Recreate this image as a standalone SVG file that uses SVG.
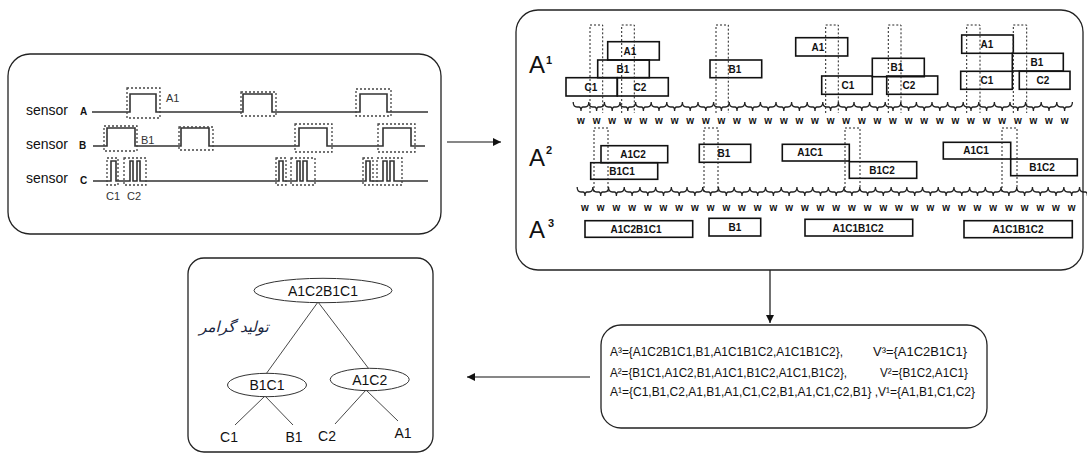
<svg xmlns="http://www.w3.org/2000/svg" width="1087" height="454" viewBox="0 0 1087 454">
<defs>
<style>
.panel{fill:#fff;stroke:#222;stroke-width:1.3}
.sig{fill:none;stroke:#333;stroke-width:1.6}
.dash{fill:none;stroke:#444;stroke-width:1.3;stroke-dasharray:2 2}
.dot{fill:none;stroke:#222;stroke-width:1;stroke-dasharray:2 2}
.box{fill:none;stroke:#111;stroke-width:1.6}
.br{fill:none;stroke:#222;stroke-width:1.3}
.conn{fill:none;stroke:#111;stroke-width:1.2}
.tl{fill:none;stroke:#333;stroke-width:0.9}
.ell{fill:#fff;stroke:#333;stroke-width:1}
text{font-family:"Liberation Sans",Arial,sans-serif;fill:#111}
.sen{font-size:14px}
.senl{font-size:10px;font-weight:bold}
.lab{font-size:11px;fill:#333}
.bt{font-size:10px;font-weight:bold;text-anchor:middle}
.w{font-size:10px;font-weight:bold;text-anchor:middle}
.big{font-size:24px}
.sup{font-size:11px;font-weight:bold}
.set{font-size:13px}
.tr{font-size:14px;text-anchor:middle}
</style>
<marker id="ah" viewBox="0 0 10 10" refX="10" refY="5" markerWidth="8" markerHeight="8" markerUnits="userSpaceOnUse" orient="auto">
<path d="M0,0 L10,5 L0,10 Z" fill="#111"/>
</marker>
</defs>

<g id="connectors">
<line class="conn" x1="447" y1="142" x2="501" y2="142" marker-end="url(#ah)"/>
<line class="conn" x1="770" y1="270" x2="770" y2="323" marker-end="url(#ah)"/>
<line class="conn" x1="590" y1="377" x2="467" y2="377" marker-end="url(#ah)"/>
</g>

<g id="sensors">
<rect class="panel" x="8" y="54" width="433" height="180" rx="22"/>
<text class="sen" x="26" y="115">sensor</text><text class="senl" x="80" y="115">A</text>
<text class="sen" x="26" y="149">sensor</text><text class="senl" x="79" y="149">B</text>
<text class="sen" x="26" y="183">sensor</text><text class="senl" x="80" y="184">C</text>
<path class="sig" d="M92,112 H130 V94 H156 V112 H243 V94 H272 V112 H360 V94 H387 V112 H428"/>
<path class="sig" d="M93,146 H107 V128 H135 V146 H181 V128 H209 V146 H299 V128 H327 V146 H383 V128 H411 V146 H425"/>
<path class="sig" d="M93,181 H111 V161 H116 V181 H130 V161 H133 V181 H137 V161 H140 V181 H279 V161 H283 V181 H297 V161 H300 V181 H303 V161 H307 V181 H366 V161 H370 V181 H383 V161 H387 V181 H390 V161 H394 V181 H428"/>
<rect class="dash" x="127" y="88" width="33" height="30"/>
<rect class="dash" x="241" y="92" width="35" height="24"/>
<rect class="dash" x="356" y="89" width="35" height="27"/>
<rect class="dash" x="104" y="126" width="33" height="25"/>
<rect class="dash" x="179" y="127" width="34" height="23"/>
<rect class="dash" x="295" y="124" width="37" height="28"/>
<rect class="dash" x="378" y="124" width="37" height="28"/>
<rect class="dash" x="107" y="158" width="11" height="27"/>
<rect class="dash" x="124" y="158" width="22" height="27"/>
<rect class="dash" x="276" y="158" width="10" height="27"/>
<rect class="dash" x="291" y="158" width="24" height="27"/>
<rect class="dash" x="363" y="158" width="10" height="27"/>
<rect class="dash" x="377" y="158" width="25" height="27"/>
<text class="lab" x="166" y="102">A1</text>
<text class="lab" x="141" y="144">B1</text>
<text class="lab" x="106" y="200">C1</text>
<text class="lab" x="127" y="200">C2</text>
</g>

<g id="hierarchy">
<rect class="panel" x="516" y="10" width="567" height="260" rx="22"/>
<text class="big" x="529" y="73">A</text><text class="sup" x="546" y="64">1</text>
<text class="big" x="529" y="166">A</text><text class="sup" x="546" y="154">2</text>
<text class="big" x="529" y="238">A</text><text class="sup" x="548" y="227">3</text>

<!-- level 1 boxes -->
<rect class="box" x="607.7" y="41.7" width="51.6" height="18.3"/><text class="bt" x="630" y="54.5">A1</text>
<rect class="box" x="597.7" y="60" width="51.6" height="17.7"/><text class="bt" x="623" y="72.5">B1</text>
<rect class="box" x="566" y="77.7" width="51.3" height="18.3"/><text class="bt" x="591" y="90.5">C1</text>
<rect class="box" x="617.3" y="77.7" width="51" height="18.3"/><text class="bt" x="640" y="90.5">C2</text>
<rect class="box" x="710" y="60" width="51.7" height="17.7"/><text class="bt" x="735" y="72.5">B1</text>
<rect class="box" x="795.7" y="37.7" width="52" height="18.3"/><text class="bt" x="818" y="50.5">A1</text>
<rect class="box" x="872.3" y="58.3" width="52" height="18.4"/><text class="bt" x="897" y="71">B1</text>
<rect class="box" x="821.7" y="76" width="50.6" height="18.3"/><text class="bt" x="848" y="88.5">C1</text>
<rect class="box" x="886.7" y="76" width="51" height="18.3"/><text class="bt" x="909" y="88.5">C2</text>
<rect class="box" x="961.7" y="35" width="51.6" height="18.3"/><text class="bt" x="987" y="48">A1</text>
<rect class="box" x="1012.3" y="53.3" width="51" height="17.7"/><text class="bt" x="1037" y="66">B1</text>
<rect class="box" x="960.7" y="71.3" width="51.6" height="18"/><text class="bt" x="987" y="84">C1</text>
<rect class="box" x="1019.3" y="71.3" width="50.7" height="18"/><text class="bt" x="1043" y="84">C2</text>

<!-- level 1 dotted windows -->
<path class="dot" d="M590,113 V25 H602.7 V113 M621.7,113 V25 H634.3 V113 M716,113 V25 H728.3 V113 M825.7,113 V25 H838.3 V113 M888.3,113 V25 H901 V113 M966.7,113 V25 H980 V113 M1013.3,113 V25 H1026.7 V113"/>

<!-- level 1 brackets and w -->
<path class="br" d="M573.2,102 q0,5 3.8,5 h2 q2,0 2,4 q0,-4 2,-4 h2 q3.8,0 3.8,-5 q0,5 3.8,5 h2 q2,0 2,4 q0,-4 2,-4 h2 q3.8,0 3.8,-5 q0,5 3.8,5 h2 q2,0 2,4 q0,-4 2,-4 h2 q3.8,0 3.8,-5 q0,5 3.8,5 h2 q2,0 2,4 q0,-4 2,-4 h2 q3.8,0 3.8,-5 q0,5 3.8,5 h2 q2,0 2,4 q0,-4 2,-4 h2 q3.8,0 3.8,-5 q0,5 3.8,5 h2 q2,0 2,4 q0,-4 2,-4 h2 q3.8,0 3.8,-5 q0,5 3.8,5 h2 q2,0 2,4 q0,-4 2,-4 h2 q3.8,0 3.8,-5 q0,5 3.8,5 h2 q2,0 2,4 q0,-4 2,-4 h2 q3.8,0 3.8,-5 q0,5 3.8,5 h2 q2,0 2,4 q0,-4 2,-4 h2 q3.8,0 3.8,-5 q0,5 3.8,5 h2 q2,0 2,4 q0,-4 2,-4 h2 q3.8,0 3.8,-5 q0,5 3.8,5 h2 q2,0 2,4 q0,-4 2,-4 h2 q3.8,0 3.8,-5 q0,5 3.8,5 h2 q2,0 2,4 q0,-4 2,-4 h2 q3.8,0 3.8,-5 q0,5 3.8,5 h2 q2,0 2,4 q0,-4 2,-4 h2 q3.8,0 3.8,-5 q0,5 3.8,5 h2 q2,0 2,4 q0,-4 2,-4 h2 q3.8,0 3.8,-5 q0,5 3.8,5 h2 q2,0 2,4 q0,-4 2,-4 h2 q3.8,0 3.8,-5 q0,5 3.8,5 h2 q2,0 2,4 q0,-4 2,-4 h2 q3.8,0 3.8,-5 q0,5 3.8,5 h2 q2,0 2,4 q0,-4 2,-4 h2 q3.8,0 3.8,-5 q0,5 3.8,5 h2 q2,0 2,4 q0,-4 2,-4 h2 q3.8,0 3.8,-5 q0,5 3.8,5 h2 q2,0 2,4 q0,-4 2,-4 h2 q3.8,0 3.8,-5 q0,5 3.8,5 h2 q2,0 2,4 q0,-4 2,-4 h2 q3.8,0 3.8,-5 q0,5 3.8,5 h2 q2,0 2,4 q0,-4 2,-4 h2 q3.8,0 3.8,-5 q0,5 3.8,5 h2 q2,0 2,4 q0,-4 2,-4 h2 q3.8,0 3.8,-5 q0,5 3.8,5 h2 q2,0 2,4 q0,-4 2,-4 h2 q3.8,0 3.8,-5 q0,5 3.8,5 h2 q2,0 2,4 q0,-4 2,-4 h2 q3.8,0 3.8,-5 q0,5 3.8,5 h2 q2,0 2,4 q0,-4 2,-4 h2 q3.8,0 3.8,-5 q0,5 3.8,5 h2 q2,0 2,4 q0,-4 2,-4 h2 q3.8,0 3.8,-5 q0,5 3.8,5 h2 q2,0 2,4 q0,-4 2,-4 h2 q3.8,0 3.8,-5 q0,5 3.8,5 h2 q2,0 2,4 q0,-4 2,-4 h2 q3.8,0 3.8,-5 q0,5 3.8,5 h2 q2,0 2,4 q0,-4 2,-4 h2 q3.8,0 3.8,-5 q0,5 3.8,5 h2 q2,0 2,4 q0,-4 2,-4 h2 q3.8,0 3.8,-5 q0,5 3.8,5 h2 q2,0 2,4 q0,-4 2,-4 h2 q3.8,0 3.8,-5 q0,5 3.8,5 h2 q2,0 2,4 q0,-4 2,-4 h2 q3.8,0 3.8,-5"/>
<text class="w" y="124" x="581 596.6 612.2 627.8 643.4 659 674.6 690.2 705.8 721.4 737 752.6 768.2 783.8 799.4 815 830.6 846.2 861.8 877.4 893 908.6 924.2 939.8 955.4 971 986.6 1002.2 1017.8 1033.4 1049 1064.6">wwwwwwwwwwwwwwwwwwwwwwwwwwwwwwww</text>

<!-- level 2 boxes -->
<rect class="box" x="601" y="145.7" width="66.7" height="17"/><text class="bt" x="633" y="158">A1C2</text>
<rect class="box" x="590.7" y="162.7" width="67" height="16.6"/><text class="bt" x="622" y="175">B1C1</text>
<rect class="box" x="699.3" y="144.3" width="51.4" height="18"/><text class="bt" x="724" y="157">B1</text>
<rect class="box" x="782.3" y="144.3" width="67" height="16.7"/><text class="bt" x="810" y="156">A1C1</text>
<rect class="box" x="849.3" y="161.7" width="67.4" height="16.6"/><text class="bt" x="882" y="174">B1C2</text>
<rect class="box" x="943.3" y="142.3" width="67.4" height="16.7"/><text class="bt" x="976" y="154">A1C1</text>
<rect class="box" x="1010.7" y="159" width="66.6" height="16.7"/><text class="bt" x="1042" y="171">B1C2</text>

<!-- level 2 dotted windows -->
<path class="dot" d="M594,192 V128 H608 V192 M704,192 V128 H718 V192 M845,192 V128 H860 V192 M1002,192 V128 H1017 V192"/>

<!-- level 2 brackets and w -->
<path class="br" d="M577.15,187 q0,5 3.85,5 h2 q2,0 2,4 q0,-4 2,-4 h2 q3.85,0 3.85,-5 q0,5 3.85,5 h2 q2,0 2,4 q0,-4 2,-4 h2 q3.85,0 3.85,-5 q0,5 3.85,5 h2 q2,0 2,4 q0,-4 2,-4 h2 q3.85,0 3.85,-5 q0,5 3.85,5 h2 q2,0 2,4 q0,-4 2,-4 h2 q3.85,0 3.85,-5 q0,5 3.85,5 h2 q2,0 2,4 q0,-4 2,-4 h2 q3.85,0 3.85,-5 q0,5 3.85,5 h2 q2,0 2,4 q0,-4 2,-4 h2 q3.85,0 3.85,-5 q0,5 3.85,5 h2 q2,0 2,4 q0,-4 2,-4 h2 q3.85,0 3.85,-5 q0,5 3.85,5 h2 q2,0 2,4 q0,-4 2,-4 h2 q3.85,0 3.85,-5 q0,5 3.85,5 h2 q2,0 2,4 q0,-4 2,-4 h2 q3.85,0 3.85,-5 q0,5 3.85,5 h2 q2,0 2,4 q0,-4 2,-4 h2 q3.85,0 3.85,-5 q0,5 3.85,5 h2 q2,0 2,4 q0,-4 2,-4 h2 q3.85,0 3.85,-5 q0,5 3.85,5 h2 q2,0 2,4 q0,-4 2,-4 h2 q3.85,0 3.85,-5 q0,5 3.85,5 h2 q2,0 2,4 q0,-4 2,-4 h2 q3.85,0 3.85,-5 q0,5 3.85,5 h2 q2,0 2,4 q0,-4 2,-4 h2 q3.85,0 3.85,-5 q0,5 3.85,5 h2 q2,0 2,4 q0,-4 2,-4 h2 q3.85,0 3.85,-5 q0,5 3.85,5 h2 q2,0 2,4 q0,-4 2,-4 h2 q3.85,0 3.85,-5 q0,5 3.85,5 h2 q2,0 2,4 q0,-4 2,-4 h2 q3.85,0 3.85,-5 q0,5 3.85,5 h2 q2,0 2,4 q0,-4 2,-4 h2 q3.85,0 3.85,-5 q0,5 3.85,5 h2 q2,0 2,4 q0,-4 2,-4 h2 q3.85,0 3.85,-5 q0,5 3.85,5 h2 q2,0 2,4 q0,-4 2,-4 h2 q3.85,0 3.85,-5 q0,5 3.85,5 h2 q2,0 2,4 q0,-4 2,-4 h2 q3.85,0 3.85,-5 q0,5 3.85,5 h2 q2,0 2,4 q0,-4 2,-4 h2 q3.85,0 3.85,-5 q0,5 3.85,5 h2 q2,0 2,4 q0,-4 2,-4 h2 q3.85,0 3.85,-5 q0,5 3.85,5 h2 q2,0 2,4 q0,-4 2,-4 h2 q3.85,0 3.85,-5 q0,5 3.85,5 h2 q2,0 2,4 q0,-4 2,-4 h2 q3.85,0 3.85,-5 q0,5 3.85,5 h2 q2,0 2,4 q0,-4 2,-4 h2 q3.85,0 3.85,-5 q0,5 3.85,5 h2 q2,0 2,4 q0,-4 2,-4 h2 q3.85,0 3.85,-5 q0,5 3.85,5 h2 q2,0 2,4 q0,-4 2,-4 h2 q3.85,0 3.85,-5 q0,5 3.85,5 h2 q2,0 2,4 q0,-4 2,-4 h2 q3.85,0 3.85,-5 q0,5 3.85,5 h2 q2,0 2,4 q0,-4 2,-4 h2 q3.85,0 3.85,-5 q0,5 3.85,5 h2 q2,0 2,4 q0,-4 2,-4 h2 q3.85,0 3.85,-5 q0,5 3.85,5 h2 q2,0 2,4 q0,-4 2,-4 h2 q3.85,0 3.85,-5 q0,5 3.85,5 h2 q2,0 2,4 q0,-4 2,-4 h2 q3.85,0 3.85,-5"/>
<text class="w" y="211" x="585 600.7 616.4 632.1 647.8 663.5 679.2 694.9 710.6 726.3 742 757.7 773.4 789.1 804.8 820.5 836.2 851.9 867.6 883.3 899 914.7 930.4 946.1 961.8 977.5 993.2 1008.9 1024.6 1040.3 1056 1071.7">wwwwwwwwwwwwwwwwwwwwwwwwwwwwwwww</text>

<!-- level 3 boxes -->
<rect class="box" x="585" y="220.7" width="107.7" height="16.6"/><text class="bt" x="636" y="233">A1C2B1C1</text>
<rect class="box" x="709" y="218.3" width="51.7" height="17.7"/><text class="bt" x="735" y="231">B1</text>
<rect class="box" x="805" y="219.3" width="107.7" height="16.7"/><text class="bt" x="858" y="232">A1C1B1C2</text>
<rect class="box" x="964" y="220.7" width="108.3" height="17"/><text class="bt" x="1018" y="233">A1C1B1C2</text>
</g>

<g id="sets">
<rect class="panel" x="601" y="325" width="386" height="103" rx="20"/>
<text class="set" x="610" y="356" textLength="233" lengthAdjust="spacingAndGlyphs">A³={A1C2B1C1,B1,A1C1B1C2,A1C1B1C2},</text>
<text class="set" x="873" y="356" textLength="94" lengthAdjust="spacingAndGlyphs">V³={A1C2B1C1}</text>
<text class="set" x="610" y="376.5" textLength="237" lengthAdjust="spacingAndGlyphs">A²={B1C1,A1C2,B1,A1C1,B1C2,A1C1,B1C2},</text>
<text class="set" x="880" y="376.5" textLength="88" lengthAdjust="spacingAndGlyphs">V²={B1C2,A1C1}</text>
<text class="set" x="610" y="396" textLength="365" lengthAdjust="spacingAndGlyphs">A¹={C1,B1,C2,A1,B1,A1,C1,C2,B1,A1,C1,C2,B1} ,V¹={A1,B1,C1,C2}</text>
</g>

<g id="tree">
<rect class="panel" x="188" y="258" width="245" height="194" rx="16"/>
<line class="tl" x1="318" y1="302" x2="266" y2="374"/>
<line class="tl" x1="318" y1="302" x2="369" y2="369"/>
<line class="tl" x1="265" y1="396" x2="235" y2="425"/>
<line class="tl" x1="265" y1="396" x2="293" y2="425"/>
<line class="tl" x1="366" y1="390" x2="335" y2="424"/>
<line class="tl" x1="366" y1="390" x2="398" y2="421"/>
<ellipse class="ell" cx="323" cy="290.5" rx="69" ry="12.2"/>
<text class="tr" x="323" y="295.5">A1C2B1C1</text>
<ellipse class="ell" cx="267" cy="385" rx="39.5" ry="11.7"/>
<text class="tr" x="267" y="390">B1C1</text>
<ellipse class="ell" cx="369.7" cy="379.5" rx="39.5" ry="11.2"/>
<text class="tr" x="369.7" y="384.5">A1C2</text>
<text class="tr" x="229" y="442">C1</text>
<text class="tr" x="294" y="442">B1</text>
<text class="tr" x="327" y="441">C2</text>
<text class="tr" x="403" y="438">A1</text>
<text x="234" y="332" style="font-family:'DejaVu Sans',sans-serif;font-size:15px;font-style:italic;fill:#1a2540" text-anchor="middle" direction="rtl">تولید گرامر</text>
</g>
</svg>
